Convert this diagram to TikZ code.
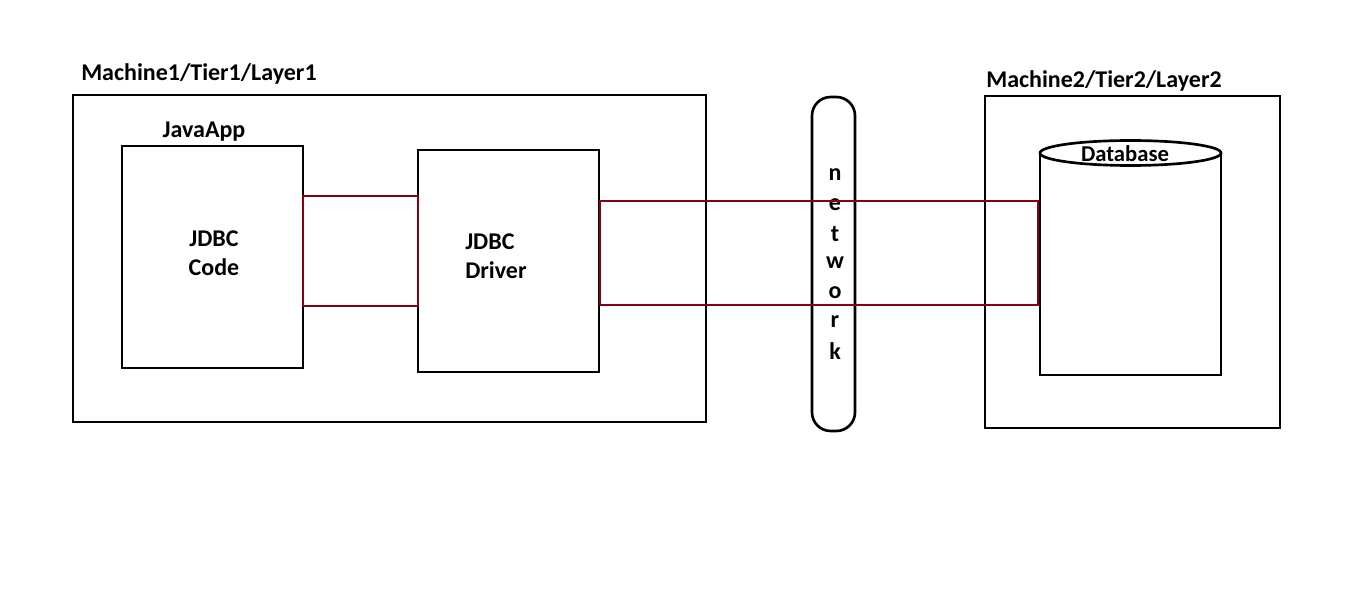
\documentclass[tikz,border=0pt]{standalone}
\usepackage{fontspec}
\setmainfont{Carlito}
\begin{document}
\begin{tikzpicture}[x=0.75pt,y=-0.75pt,
  box/.style={draw=black,line width=2pt},
  link/.style={draw=linkred,line width=2.2pt},
  lbl/.style={font=\bfseries\fontsize{18}{22}\selectfont,inner sep=0pt},
]
\definecolor{linkred}{RGB}{136,0,21}
\useasboundingbox (0,0) rectangle (1360,613);

% first machine with the Java application and the driver
\draw[box] (73,95) rectangle (706,422);
\node[lbl,anchor=west] (m1) at (81,74) {Machine1/Tier1/Layer1};
\draw[box] (122,146) rectangle (303,368);
\node[lbl] (app) at (204,132) {JavaApp};
\node[lbl,align=center] (code) at (214,253) {JDBC\\Code};
\draw[box] (418,150) rectangle (599,372);
\node[lbl,align=left,anchor=west] (drv) at (465,256) {JDBC\\Driver};

% network pipe
\draw[box,rounded corners=14pt] (812,97) rectangle (855,431);
\foreach \c [count=\i] in {n,e,t,w,o,r,k}
  \node[lbl] (net\i) at (835,175+29.3*\i-29.3) {\c};

% second machine with the database
\draw[box] (985,96) rectangle (1280,428);
\node[lbl,anchor=west] (m2) at (986,81) {Machine2/Tier2/Layer2};
\draw[box] (1040,153) -- (1040,375) -- (1221,375) -- (1221,153);
\draw[box,fill=white] (1130.5,153) ellipse [x radius=90.5,y radius=12.5];
\node[lbl,font=\bfseries\fontsize{17}{20}\selectfont] (db) at (1125,153.5) {Database};

% connections
\draw[link] (303,196) rectangle (418,306);
\draw[link] (600,201) rectangle (1038,305);
\end{tikzpicture}
\end{document}
